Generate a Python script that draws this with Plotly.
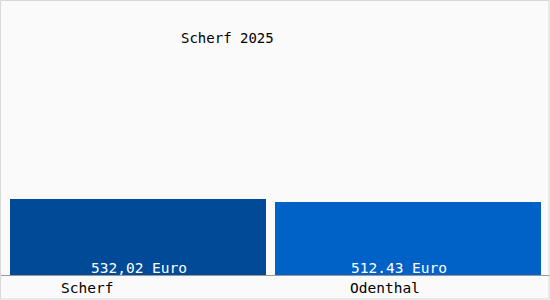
import plotly.graph_objects as go

categories = ["Scherf", "Odenthal"]
values = [532.02, 512.43]
value_labels = ["532,02 Euro", "512.43 Euro"]
title_text = "Scherf 2025"

bar_colors = ["#004a98", "#0061c6"]
bar_offsets = [-0.4636, -0.5]
bar_widths = [0.9309, 0.9673]
label_shift = [1, -14]
cat_shift = [-51, -27.5]

FONT = "DejaVu Sans Mono"

fig = go.Figure()
fig.add_trace(go.Bar(
    x=categories, y=values,
    marker=dict(color=bar_colors, line=dict(width=0)),
    offset=bar_offsets, width=bar_widths,
    hoverinfo="skip",
))

for i, (c, v, t) in enumerate(zip(categories, values, value_labels)):
    fig.add_annotation(x=c, xref="x", y=0, yref="y", text=t, showarrow=False,
                       xanchor="center", yanchor="middle", yshift=7, xshift=label_shift[i],
                       font=dict(family=FONT, size=14.5, color="white"))
    fig.add_annotation(x=c, xref="x", y=-13/275, yref="paper", text=c, showarrow=False,
                       xanchor="center", yanchor="middle", xshift=cat_shift[i],
                       font=dict(family=FONT, size=14.5, color="black"))

fig.add_annotation(x=227/550, xref="paper", y=(275-38)/275, yref="paper", text=title_text,
                   showarrow=False, xanchor="center", yanchor="middle",
                   font=dict(family=FONT, size=14, color="black"))

# outer border
fig.add_shape(type="rect", xref="paper", yref="paper",
              x0=0.5/550, x1=549/550, y0=-24/275, y1=274.5/275,
              line=dict(color="#d8d8d8", width=1), fillcolor="rgba(0,0,0,0)", layer="above")

fig.update_layout(
    width=550, height=300,
    margin=dict(l=0, r=0, t=0, b=25),
    paper_bgcolor="#fafafa", plot_bgcolor="#fafafa",
    showlegend=False,
    bargap=0,
    xaxis=dict(type="category", range=[-0.5, 1.5], showticklabels=False, ticks="",
               showgrid=False, zeroline=False, showline=True, linecolor="#999999", linewidth=1,
               fixedrange=True),
    yaxis=dict(range=[0, 1925], visible=False, showgrid=False, zeroline=False, fixedrange=True),
)

fig.write_html("out.html", config={"displayModeBar": False})
